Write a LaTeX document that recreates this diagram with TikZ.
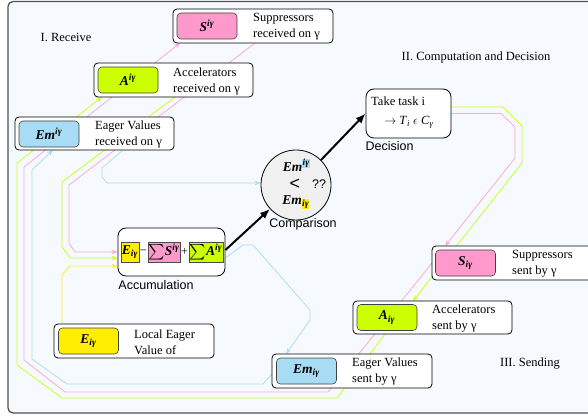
\documentclass[tikz,border=0pt]{standalone}
\usepackage{fontspec}
\setmainfont{Liberation Serif}
\setsansfont{Liberation Sans}
\usetikzlibrary{arrows.meta,calc,backgrounds}
\definecolor{bgc}{HTML}{F6FAFE}
\definecolor{framec}{HTML}{505050}
\definecolor{cpink}{HTML}{FF99CC}
\definecolor{cgreen}{HTML}{CCFF00}
\definecolor{cblue}{HTML}{A8DCF5}
\definecolor{cyellow}{HTML}{FFEE00}
\definecolor{cgray}{HTML}{F0F0F0}
\definecolor{wpink}{HTML}{FFA8D6}
\definecolor{wgreen}{HTML}{CCFF22}
\definecolor{wblue}{HTML}{ACDDF6}
\definecolor{wyellow}{HTML}{FFEE22}
\newcommand\bi[1]{\textbf{\textit{#1}}}
\newcommand\upx[1]{\textsuperscript{\bi{#1}}}
\newcommand\dnx[1]{\textsubscript{\bi{#1}}}
\newcommand\hlt[2]{{\setlength{\fboxsep}{0.4pt}\colorbox{#1}{#2}}}
\newcommand\mainsz{\fontsize{12.5}{16}\selectfont}
\newcommand\chipsz{\fontsize{13.5}{16}\selectfont}
\newcommand\bigsig{\raisebox{-2.5pt}{\scalebox{1.55}{$\sum$}}}
\tikzset{
  outerbox/.style={draw=black, fill=white, rounded corners=4pt, line width=0.8pt,
    minimum width=160pt, minimum height=34pt, inner sep=0pt, outer sep=0pt},
  chip/.style={draw=black!75, rounded corners=4pt, line width=0.6pt,
    minimum width=60pt, minimum height=26pt, inner sep=0pt, font=\chipsz},
  lbl/.style={anchor=west, align=left, inner sep=0pt, font=\mainsz},
  sanslbl/.style={inner sep=0pt, font=\sffamily\mainsz},
  sq/.style={draw=black!70, line width=0.5pt, minimum height=20pt, inner sep=0.5pt, font=\chipsz},
  wire/.style={line width=0.8pt, -{Stealth[length=6pt,width=4.5pt]}},
  bigarrow/.style={line width=2pt, -{Latex[length=10pt,width=8pt]}},
  roundbox/.style={draw=black, fill=white, rounded corners=8pt, line width=0.8pt, inner sep=0pt}
}
\begin{document}
\begin{tikzpicture}[x=1pt,y=-1pt]
\useasboundingbox (0,0) rectangle (588,419);

% ---------- receive boxes ----------
\node[outerbox] (srb) at (253,26) {};
\node[chip, fill=cpink] (src) at (207,26) {\bi{S}\upx{iγ}};
\node[lbl] (srt) at (253,27) {Suppressors\\received on γ};

\node[outerbox, minimum width=159pt] (arb) at (173.5,80) {};
\node[chip, fill=cgreen] (arc) at (128,80) {\bi{A}\upx{iγ}};
\node[lbl] (art) at (173,81) {Accelerators\\received on γ};

\node[outerbox, minimum width=159pt, minimum height=33pt] (erb) at (94.5,133.5) {};
\node[chip, fill=cblue] (erc) at (49,134) {\bi{Em}\upx{iγ}};
\node[lbl] (ert) at (95,134.5) {Eager Values\\received on γ};

% ---------- local value ----------
\node[outerbox] (lvb) at (134,341) {};
\node[chip, fill=cyellow] (lvc) at (88.5,341) {\bi{E}\dnx{iγ}};
\node[lbl] (lvt) at (134,342) {Local Eager\\Value of};

% ---------- sending boxes ----------
\begin{scope}
\clip (0,0) rectangle (588,419);
\node[outerbox] (ssb) at (512,263) {};
\end{scope}
\node[chip, fill=cpink] (ssc) at (465.5,263) {\bi{S}\dnx{iγ}};
\node[lbl] (sst) at (512,264) {Suppressors\\sent by γ};

\node[outerbox, minimum width=159pt, minimum height=33pt] (asb) at (432.5,317.5) {};
\node[chip, fill=cgreen] (asc) at (387,317.5) {\bi{A}\dnx{iγ}};
\node[lbl] (ast) at (432,318.5) {Accelerators\\sent by γ};

\node[outerbox] (esb) at (352,371) {};
\node[chip, fill=cblue] (esc) at (306.5,371) {\bi{Em}\dnx{iγ}};
\node[lbl] (est) at (352,372) {Eager Values\\sent by γ};

% ---------- section titles ----------
\node[inner sep=0pt, font=\mainsz] (t1) at (66,37) {I. Receive};
\node[inner sep=0pt, font=\mainsz] (t2) at (476,57) {II. Computation and Decision};
\node[inner sep=0pt, font=\mainsz] (t3) at (530,364) {III. Sending};

% ---------- accumulation ----------
\node[roundbox, minimum width=107pt, minimum height=48pt] (acc) at (171.5,252) {};
\node[sq, fill=cyellow, minimum width=18pt] (ae) at (130,252) {\bi{E}\dnx{iγ}};
\node[inner sep=0pt, font=\mainsz] (am) at (143.5,252) {\textminus};
\node[sq, fill=cpink, minimum width=32pt] (as) at (164,252) {\bigsig\bi{S}\upx{iγ}};
\node[inner sep=0pt, font=\mainsz] (ap) at (184.5,252) {+};
\node[sq, fill=cgreen, minimum width=34pt] (aa) at (206,252) {\bigsig\bi{A}\upx{iγ}};
\node[sanslbl] (accl) at (156,285) {Accumulation};

% ---------- comparison ----------
\node[circle, draw, fill=cgray, line width=0.8pt, minimum size=70pt, inner sep=0pt] (cmp) at (296,185) {};
\node[inner sep=0pt, font=\chipsz] (c1) at (296.5,165) {\bi{Em}\textsuperscript{\hlt{cblue}{\bi{iγ}}}};
\node[inner sep=0pt, font=\sffamily\fontsize{18}{18}\selectfont] (c2) at (295,184) {<};
\node[inner sep=0pt, font=\sffamily\mainsz] (c3) at (319,184) {??};
\node[inner sep=0pt, font=\chipsz] (c4) at (296,202) {\bi{Em}\textsubscript{\hlt{cyellow}{\bi{iγ}}}};
\node[sanslbl] (cmpl) at (303,224) {Comparison};

% ---------- decision ----------
\node[roundbox, minimum width=85pt, minimum height=49pt] (dec) at (408.5,113.5) {};
\node[lbl] (dect) at (371,101) {Take task i};
\node[inner sep=0pt, font=\mainsz] (decf) at (409,122) {$\rightarrow$\ \textit{T}\textsubscript{\textit{i}}\ $\epsilon$\ \textit{C}\textsubscript{\textit{γ}}};
\node[sanslbl] (decl) at (389.5,146) {Decision};

% ---------- background: frame and wires ----------
\begin{scope}[on background layer]
  \begin{scope}
    \clip (0,0) rectangle (588,419);
    \fill[white] (0,0) rectangle (588,419);
    \draw[framec, fill=bgc, line width=1.3pt, rounded corners=5pt] (8,1.5) rectangle (600,413);
  \end{scope}
  % sent -> received
  \draw[wire, wgreen] ($(asb.south west)+(32,0)$) -- (337,398) -- (62,398) -- (17,365) -- (17,163) -- ($(arb.south west)+(8,0)$);
  \draw[wire, wpink] (ssb.west) -- (328,392) -- (65,392) -- (24,360) -- (24,167) -- ($(srb.south west)+(7,0)$);
  \draw[wire, wblue] ($(esb.west)+(0,3)$) -- (263,384) -- (67,384) -- (32,359) -- (32,170) -- ($(erb.south west)+(38,0)$);
  % received -> accumulation / comparison
  \draw[wire, wgreen] ($(arb.south west)+(81,0)$) -- (62,182) -- (62,247) -- (70,258) -- ($(acc.west)+(0,6)$);
  \draw[wire, wpink] ($(srb.south west)+(82,0)$) -- (69,185) -- (69,243) -- (75,252) -- (acc.west);
  \draw[wire, wyellow] ($(lvb.north west)+(8,0)$) -- (62,275) -- (70,266) -- ($(acc.west)+(0,14)$);
  \draw[wire, wblue] ($(erb.south west)+(108,0)$) -- (102,168) -- (102,177) -- (107,183) -- ($(cmp.west)+(0,-2)$);
  % accumulation -> Em sent
  \draw[wire, wblue] ($(acc.east)+(0,6)$) -- (243,245) -- (253,245) -- (310,310) -- (310,320) -- ($(esb.north west)+(14,0)$);
  % decision -> sending
  \draw[wire, wgreen] ($(dec.east)+(0,-6.5)$) -- (503,107) -- (522,126) -- (522,163) -- ($(asb.north west)+(60,0)$);
  \draw[wire, wpink] (dec.east) -- (501,113.5) -- (515,127) -- (515,158) -- ($(ssb.north west)+(13,0)$);
\end{scope}

% ---------- black arrows ----------
\draw[bigarrow] ($(acc.east)+(0,-2)$) -- (cmp);
\draw[bigarrow] (cmp.45) -- (dec.west);
\end{tikzpicture}
\end{document}
